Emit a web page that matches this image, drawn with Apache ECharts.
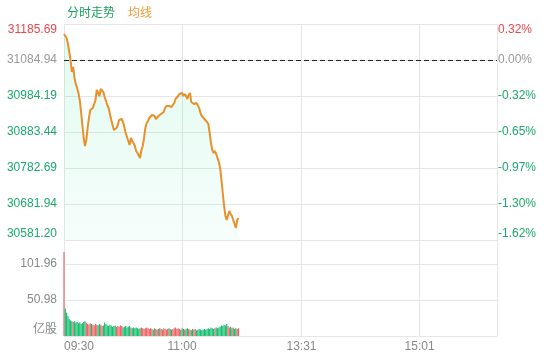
<!DOCTYPE html>
<html>
<head>
<meta charset="utf-8">
<script src="https://cdn.jsdelivr.net/npm/echarts@6/dist/echarts.min.js"></script>
<style>html,body{margin:0;padding:0;background:#fff}#c{width:560px;height:360px}</style>
</head>
<body>
<div id="c"></div>
<script>
// ---- data ----
const prevClose = 31084.94;
const priceMin = 30581.19;
const priceMax = 31185.69;
const priceStep = 100.75;
const priceTickLabels = ['31185.69','31084.94','30984.19','30883.44','30782.69','30681.94','30581.20'];
const pctTickLabels = ['0.32%','0.00%','-0.32%','-0.65%','-0.97%','-1.30%','-1.62%'];
const volTickLabels = ['亿股','50.98','101.96',''];
const volStep = 50.98;
const volMax = 135.95;
const timeLabelIdx = [0, 90, 181, 271];

const priceValues = [
31157.75,31152.15,31146.55,31129.76,31107.37,31084.98,31051.40,31065.39,31034.61,31017.82,
31006.62,30992.63,30973.04,30939.46,30903.07,30866.69,30844.30,30861.10,30894.68,30922.67,
30945.05,30939.46,30950.65,30961.85,30973.04,31001.03,30998.23,30984.23,31003.82,31006.62,
30995.43,30981.44,30970.24,30959.05,30950.65,30933.86,30917.07,30903.07,30889.08,30886.28,
30894.68,30903.07,30917.07,30919.87,30919.87,30911.47,30897.48,30880.69,30869.49,30858.30,
30847.10,30866.69,30858.30,30852.70,30844.30,30830.31,30824.71,30819.12,30810.72,30833.11,
30844.30,30866.69,30894.68,30908.67,30914.27,30922.67,30928.26,30931.06,30928.26,30928.26,
30919.87,30925.46,30928.26,30922.67,30933.86,30933.86,30939.46,30950.65,30956.25,30959.05,
30956.25,30959.05,30953.45,30953.45,30964.64,30975.84,30978.64,30984.23,30989.83,30987.03,
30992.63,30984.23,30989.83,30984.23,30975.84,30987.03,30992.63,30967.44,30961.85,30961.85,
30967.44,30964.64,30959.05,30950.65,30936.66,30928.26,30922.67,30919.87,30917.07,30911.47,
30905.87,30880.69,30852.70,30833.11,30824.71,30830.31,30821.92,30810.72,30799.53,30782.74,
30749.15,30712.77,30676.39,30648.40,30637.21,30651.20,30662.40,30654.00,30648.40,30648.40,
30626.01,30614.82,30637.21,30642.81
];

const volumeValues = [
119,39,33,28,24,22,21,20,21,19,20,18,19,17,18,20,21,19,17,16,
18,17,16,15,17,16,15,17,16,14,15,19,17,15,14,16,15,13,14,15,
13,14,13,15,14,12,13,14,12,13,14,12,11,12,11,12,11,10,11,12,
11,10,11,12,11,10,11,10,9,11,10,9,10,11,10,9,11,10,9,10,
11,10,9,10,11,12,10,11,10,9,11,10,9,10,11,10,9,8,10,9,
10,8,9,10,9,8,9,10,9,10,11,10,12,11,10,11,12,11,12,13,
15,14,16,15,17,14,12,13,11,12,10,11,10,11
];

// trading session minutes (HK): 09:30-12:00, 13:01-16:00
function pad(n){return (n<10?'0':'')+n;}
const times = [];
for (let m = 9*60+30; m <= 12*60; m++) times.push(pad(Math.floor(m/60))+':'+pad(m%60));
for (let m = 13*60+1; m <= 16*60; m++) times.push(pad(Math.floor(m/60))+':'+pad(m%60));

// ---- style ----
const RED = '#e8474b', GREEN = '#1ca86c', GRAY = '#999999';
const gridLine = '#e6e6e6';
const font = 'Arial, "Liberation Sans", "Noto Sans CJK SC", sans-serif';

const volData = volumeValues.map((v, i) => {
  const prev = i === 0 ? prevClose : priceValues[i-1];
  const up = priceValues[i] >= prev;
  return { value: v, itemStyle: { color: up ? '#ec6466' : '#16bf72' } };
});

const splitIdx = timeLabelIdx.concat([times.length - 1]);

const chart = echarts.init(document.getElementById('c'), null, {renderer: 'canvas'});
chart.setOption({
  animation: false,
  backgroundColor: '#fff',
  textStyle: { fontFamily: font },
  title: {
    left: 62, top: 3,
    text: '{a|分时走势}{b|均线}',
    textStyle: {
      fontWeight: 'normal',
      rich: {
        a: { color: '#1a9e5c', fontSize: 12, fontWeight: 'normal', fontFamily: font, padding: [0, 13, 0, 0] },
        b: { color: '#f09a35', fontSize: 12, fontWeight: 'normal', fontFamily: font }
      }
    }
  },
  grid: [
    { left: 64, right: 63, top: 24, height: 216 },
    { left: 64, right: 63, top: 240, height: 96 }
  ],
  xAxis: [
    {
      type: 'category', gridIndex: 0, data: times, boundaryGap: false,
      axisLine: { show: false }, axisTick: { show: false }, axisLabel: { show: false },
      splitLine: { show: true, interval: (i) => splitIdx.indexOf(i) >= 0, lineStyle: { color: gridLine } }
    },
    {
      type: 'category', gridIndex: 1, data: times, boundaryGap: false,
      axisLine: { show: true, lineStyle: { color: gridLine } }, axisTick: { show: false },
      axisLabel: {
        interval: (i) => timeLabelIdx.indexOf(i) >= 0,
        color: '#888', fontSize: 12, margin: 5, fontFamily: font,
        alignMinLabel: 'left'
      },
      splitLine: { show: true, interval: (i) => splitIdx.indexOf(i) >= 0, lineStyle: { color: gridLine } }
    }
  ],
  yAxis: [
    {
      type: 'value', gridIndex: 0, min: priceMin, max: priceMax, interval: priceStep, scale: true,
      axisLine: { show: false }, axisTick: { show: false },
      splitLine: { show: true, lineStyle: { color: gridLine } },
      axisLabel: {
        fontSize: 12, margin: 7, fontFamily: font,
        formatter: (v, i) => priceTickLabels[priceTickLabels.length - 1 - i],
        color: (v, i) => {
          const k = priceTickLabels.length - 1 - i;
          return k === 0 ? RED : (k === 1 ? GRAY : GREEN);
        },
        verticalAlignMinLabel: 'bottom', verticalAlignMaxLabel: 'top'
      }
    },
    {
      type: 'value', gridIndex: 0, position: 'right', min: priceMin, max: priceMax, interval: priceStep, scale: true,
      axisLine: { show: false }, axisTick: { show: false }, splitLine: { show: false },
      axisLabel: {
        fontSize: 12, margin: 1, fontFamily: font,
        formatter: (v, i) => pctTickLabels[pctTickLabels.length - 1 - i],
        color: (v, i) => {
          const k = pctTickLabels.length - 1 - i;
          return k === 0 ? RED : (k === 1 ? GRAY : GREEN);
        },
        verticalAlignMinLabel: 'bottom', verticalAlignMaxLabel: 'top'
      }
    },
    {
      type: 'value', gridIndex: 1, min: 0, max: volMax, interval: volStep,
      axisLine: { show: false }, axisTick: { show: false },
      splitLine: { show: true, lineStyle: { color: gridLine } },
      axisLabel: {
        fontSize: 12, margin: 7, color: '#888', fontFamily: font,
        formatter: (v, i) => volTickLabels[i] || '',
        verticalAlignMinLabel: 'bottom'
      }
    }
  ],
  series: [
    {
      name: '分时走势', type: 'line', xAxisIndex: 0, yAxisIndex: 0,
      data: priceValues, symbol: 'none', smooth: false,
      lineStyle: { color: '#e8902a', width: 2 },
      areaStyle: {
        color: new echarts.graphic.LinearGradient(0, 0, 0, 1, [
          { offset: 0, color: 'rgba(40,225,150,0.2)' },
          { offset: 1, color: 'rgba(40,225,150,0.06)' }
        ])
      },
      markLine: {
        silent: true, symbol: ['none', 'none'], label: { show: false },
        lineStyle: { color: '#222', type: [5, 3], width: 1 },
        data: [{ yAxis: prevClose }]
      }
    },
    {
      name: '成交量', type: 'bar', xAxisIndex: 1, yAxisIndex: 2,
      data: volData, barWidth: 1.2, barGap: '0%'
    }
  ]
});
</script>
</body>
</html>
